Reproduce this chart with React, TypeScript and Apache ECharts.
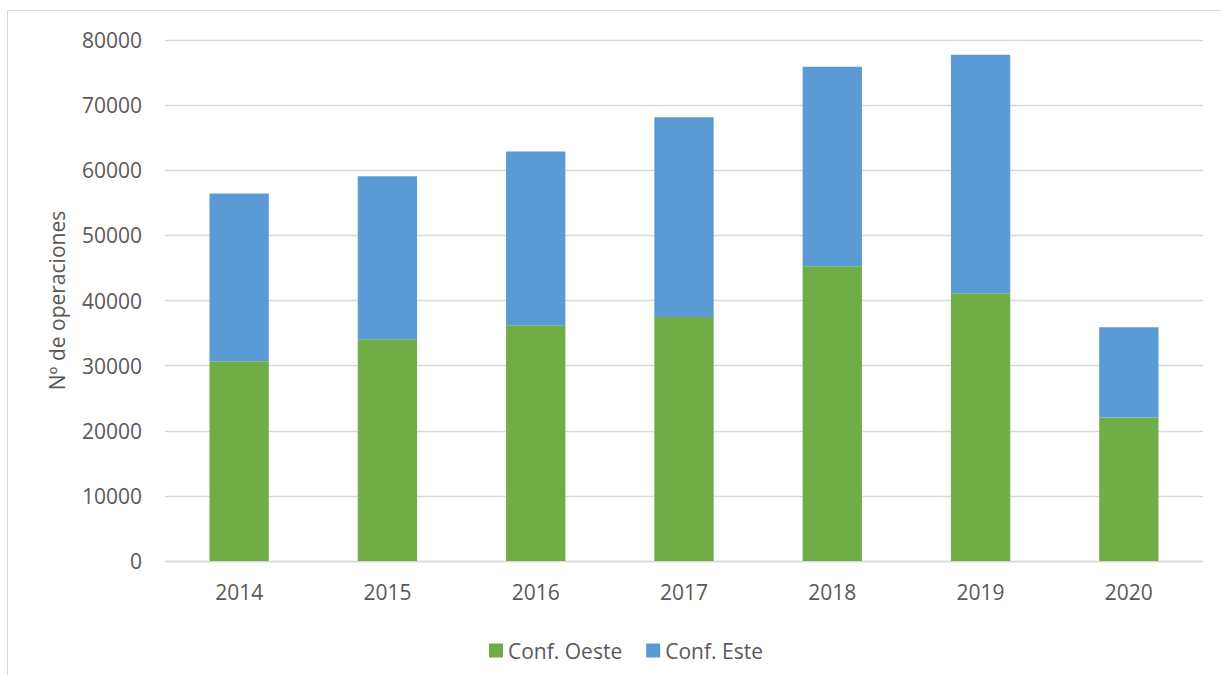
import React, { useEffect, useRef } from "react";
import * as echarts from "echarts";

const years = ["2014", "2015", "2016", "2017", "2018", "2019", "2020"];
const oeste = [30680, 34050, 36200, 37480, 45270, 41120, 22020];
const este = [25740, 25040, 26680, 30670, 30610, 36610, 13870];
const seriesNames = ["Conf. Oeste", "Conf. Este"];
const yTitle = "Nº de operaciones";

const FONT = "'Open Sans', 'Noto Sans', sans-serif";
const TEXT = "#595959";
const FS = 21;

export default function App() {
  const ref = useRef<HTMLDivElement>(null);
  useEffect(() => {
    if (!ref.current) return;
    const chart = echarts.init(ref.current, undefined, { renderer: "svg" });
    chart.setOption({
      animation: false,
      backgroundColor: "#ffffff",
      textStyle: { fontFamily: FONT, color: TEXT },
      grid: { left: 165, right: 18, top: 40, bottom: 114 },
      graphic: [
        {
          type: "rect",
          shape: { x: 7.5, y: 10.5, width: 1240, height: 700 },
          style: { fill: "none", stroke: "#d9d9d9", lineWidth: 1 },
          silent: true,
        },
      ],
      legend: {
        left: 484,
        top: 635,
        itemWidth: 14,
        itemHeight: 14,
        itemGap: 24,
        icon: "rect",
        textStyle: { fontFamily: FONT, color: TEXT, fontSize: FS },
        data: seriesNames,
      },
      xAxis: {
        type: "category",
        data: years,
        axisLine: { show: true, lineStyle: { color: "#d9d9d9", width: 1.3 } },
        axisTick: { show: false },
        axisLabel: { color: TEXT, fontFamily: FONT, fontSize: FS, margin: 20 },
      },
      yAxis: {
        type: "value",
        min: 0,
        max: 80000,
        interval: 10000,
        name: yTitle,
        nameLocation: "middle",
        nameRotate: 90,
        nameGap: 98,
        nameTextStyle: { color: TEXT, fontFamily: FONT, fontSize: FS },
        axisLine: { show: false },
        axisTick: { show: false },
        axisLabel: {
          color: TEXT,
          fontFamily: FONT,
          fontSize: FS,
          margin: 23,
          formatter: (v: number) => String(v),
        },
        splitLine: { lineStyle: { color: "#d9d9d9", width: 1.3 } },
      },
      series: [
        {
          name: seriesNames[0],
          type: "bar",
          stack: "total",
          barWidth: "40%",
          data: oeste,
          itemStyle: { color: "#70AD47" },
        },
        {
          name: seriesNames[1],
          type: "bar",
          stack: "total",
          barWidth: "40%",
          data: este,
          itemStyle: { color: "#5B9BD5" },
        },
      ],
    });
    return () => chart.dispose();
  }, []);
  return (
    <div
      ref={ref}
      style={{ position: "absolute", left: 0, top: 0, width: 1221, height: 675 }}
    />
  );
}
